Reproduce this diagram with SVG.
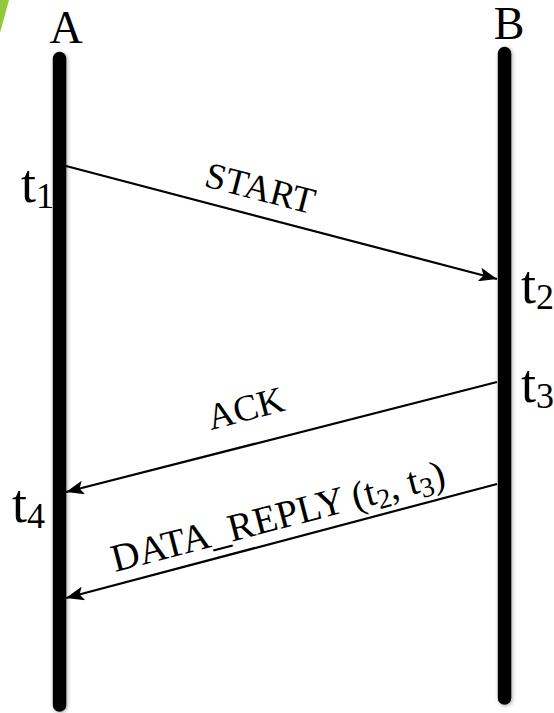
<svg xmlns="http://www.w3.org/2000/svg" width="554" height="713" viewBox="0 0 554 713">
<style>
.lbl{font-family:"Liberation Serif","Times New Roman",serif;fill:#000}
.big{font-size:46px}
.t{font-size:54px}
.msg{font-size:37px}
.dr{font-size:39px}
.life{fill:#000;filter:url(#sh)}
.arr{stroke:#000;stroke-width:2.2;fill:none;marker-end:url(#ah)}
</style>
<defs>
<filter id="sh" filterUnits="userSpaceOnUse" x="0" y="0" width="554" height="713">
<feGaussianBlur in="SourceAlpha" stdDeviation="2"/>
<feOffset dx="1" dy="1" result="b"/>
<feComponentTransfer><feFuncA type="linear" slope="0.35"/></feComponentTransfer>
<feMerge><feMergeNode/><feMergeNode in="SourceGraphic"/></feMerge>
</filter>
<marker id="ah" markerUnits="userSpaceOnUse" markerWidth="20" markerHeight="14" refX="18" refY="7" orient="auto">
<path d="M0,0 L18,7 L0,14 L4,7 z" fill="#000"/>
</marker>
</defs>
<polygon points="0,0 9,0 0,33" fill="#92C83E"/>
<g id="A">
<rect class="life" x="52.8" y="51.8" width="13.5" height="660" rx="6.75"/>
<text class="lbl big" x="66" y="43" text-anchor="middle">A</text>
</g>
<g id="B">
<rect class="life" x="497.8" y="46.8" width="13.5" height="658" rx="6.75"/>
<text class="lbl big" x="509" y="39" text-anchor="middle">B</text>
</g>
<g id="times">
<text class="lbl t" x="21" y="202">t<tspan font-size="36" dy="6">1</tspan></text>
<text class="lbl t" x="521" y="303">t<tspan font-size="36" dy="6">2</tspan></text>
<text class="lbl t" x="521" y="402">t<tspan font-size="36" dy="6">3</tspan></text>
<text class="lbl t" x="12" y="522">t<tspan font-size="36" dy="6">4</tspan></text>
</g>
<g id="connectors">
<line class="arr" x1="66" y1="166" x2="497" y2="279"/>
<line class="arr" x1="497" y1="382" x2="66" y2="492"/>
<line class="arr" x1="497" y1="484" x2="66" y2="598"/>
</g>
<g id="labels">
<text class="lbl msg" transform="translate(203,186) rotate(14.6)">START</text>
<text class="lbl msg" transform="translate(211,430) rotate(-14.6)">ACK</text>
<text class="lbl dr" transform="translate(115,572) rotate(-14.6)">DATA_REPLY (t<tspan font-size="28" dy="6">2</tspan><tspan dy="-6">, t</tspan><tspan font-size="28" dy="6">3</tspan><tspan dy="-6">)</tspan></text>
</g>
</svg>
